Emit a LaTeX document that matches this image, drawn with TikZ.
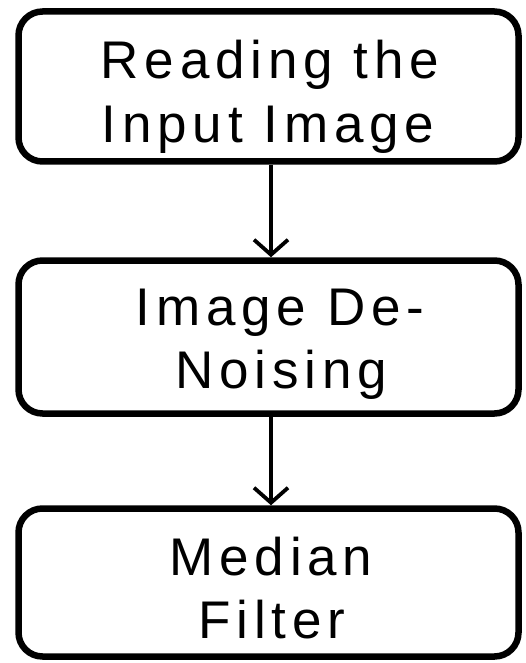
\documentclass[tikz,border=0pt]{standalone}
\usepackage{fontspec}
\setmainfont{Liberation Sans}[LetterSpace=11]
\usetikzlibrary{arrows.meta}
\begin{document}
\begin{tikzpicture}[x=1pt,y=-1pt,
  stepbox/.style={draw=black, line width=6.5pt, rounded corners=24pt},
  txt/.style={anchor=base, inner sep=0pt, font=\fontsize{53}{60}\selectfont},
  conn/.style={line width=3.8pt, -{Straight Barb[length=15pt,width=34pt,line width=3.8pt]}}]
\useasboundingbox (0,0) rectangle (526,663);
\fill[white] (0,0) rectangle (526,663);
% boxes
\node[stepbox, minimum width=500pt, minimum height=150pt, inner sep=0pt] (b1) at (268.5,86.5) {};
\node[stepbox, minimum width=500pt, minimum height=153pt, inner sep=0pt] (b2) at (268.5,337) {};
\node[stepbox, minimum width=500pt, minimum height=148pt, inner sep=0pt] (b3) at (268.5,582.5) {};
% texts
\node[txt] (t1a) at (270,79) {Reading the};
\node[txt] (t1b) at (268,143) {Input Image};
\node[txt] (t2a) at (280,325) {Image De-};
\node[txt] (t2b) at (281,388) {Noising};
\node[txt] (t3a) at (271,575) {Median};
\node[txt] (t3b) at (272,638) {Filter};
% connectors
\coordinate (a1s) at (271,165);
\coordinate (a1e) at (271,257);
\coordinate (a2s) at (271,417);
\coordinate (a2e) at (271,505);
\draw[conn] (a1s |- b1.south) -- (a1e |- b2.north);
\draw[conn] (a2s |- b2.south) -- (a2e |- b3.north);
\end{tikzpicture}
\end{document}
